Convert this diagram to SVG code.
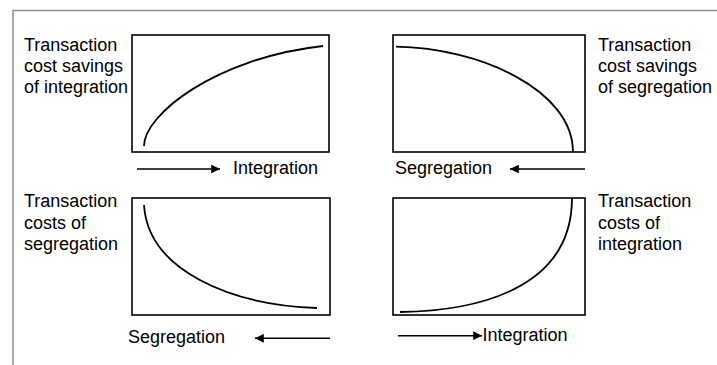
<svg xmlns="http://www.w3.org/2000/svg" width="717" height="365" viewBox="0 0 717 365">
<style>
.frame{stroke:#8f8f8f;stroke-width:1.5;fill:none}
.box{fill:#fff;stroke:#000;stroke-width:1.6}
.curve{fill:none;stroke:#000;stroke-width:1.8}
.arr{stroke:#000;stroke-width:1.6;fill:none}
text{font-family:"Liberation Sans",Arial,sans-serif;font-size:18px;fill:#000}
</style>
<defs>
<marker id="ah" viewBox="0 0 10 10" refX="10" refY="5" markerWidth="5.5" markerHeight="5.5" orient="auto" markerUnits="strokeWidth">
<path d="M0,0 L10,5 L0,10 z" fill="#000"/>
</marker>
</defs>
<rect width="717" height="365" fill="#fff"/>
<path class="frame" d="M13,365 V10.5 H717"/>
<g id="panel-tl">
<rect class="box" x="132" y="35" width="197" height="117"/>
<path class="curve" d="M144,146 C144,115 215,58 323,46"/>
<text x="24" y="51">Transaction</text>
<text x="24" y="72">cost savings</text>
<text x="24" y="93">of integration</text>
</g>
<g id="panel-tr">
<rect class="box" x="393" y="35" width="192" height="117"/>
<path class="curve" d="M396,46.7 C480,48 573,90 573,152"/>
<text x="598" y="51">Transaction</text>
<text x="598" y="72">cost savings</text>
<text x="598" y="93">of segregation</text>
</g>
<g id="panel-bl">
<rect class="box" x="132" y="198" width="198" height="117"/>
<path class="curve" d="M144,205 C148,270 230,305 317,308"/>
<text x="24" y="207">Transaction</text>
<text x="24" y="228.5">costs of</text>
<text x="24" y="250">segregation</text>
</g>
<g id="panel-br">
<rect class="box" x="393" y="198" width="192" height="117"/>
<path class="curve" d="M400,312 C475,311 572,290 572,198"/>
<text x="598" y="207">Transaction</text>
<text x="598" y="228.5">costs of</text>
<text x="598" y="250">integration</text>
</g>
<g id="axis-labels">
<text x="233" y="174">Integration</text>
<text x="395" y="174">Segregation</text>
<text x="128" y="343">Segregation</text>
<text x="482.5" y="341">Integration</text>
</g>
<g id="connectors">
<line class="arr" x1="137" y1="169" x2="220" y2="169" marker-end="url(#ah)"/>
<line class="arr" x1="585" y1="169" x2="510" y2="169" marker-end="url(#ah)"/>
<line class="arr" x1="330" y1="338.3" x2="255" y2="338.3" marker-end="url(#ah)"/>
<line class="arr" x1="398" y1="335.7" x2="482" y2="335.7" marker-end="url(#ah)"/>
</g>
</svg>
